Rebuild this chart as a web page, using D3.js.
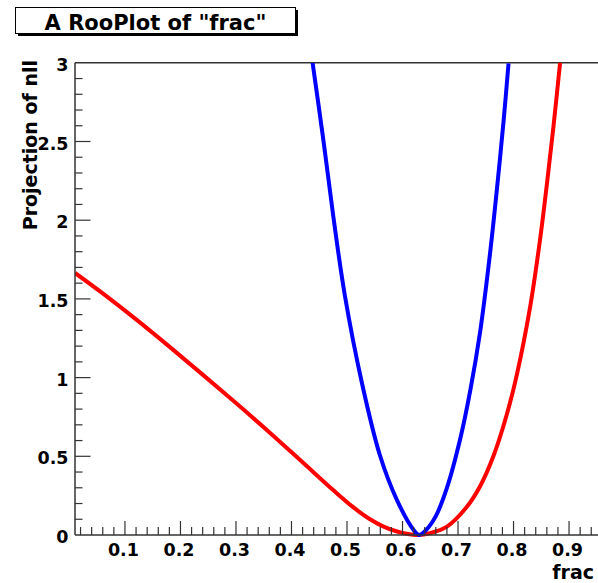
<!DOCTYPE html>
<html>
<head>
<meta charset="utf-8">
<script src="https://cdn.jsdelivr.net/npm/d3@7"></script>
<style>
  html, body { margin: 0; padding: 0; background: #fff; }
  svg { display: block; }
  text { font-family: "DejaVu Sans", sans-serif; font-weight: bold; fill: #000; }
</style>
</head>
<body>
<svg id="chart" width="598" height="583"></svg>
<script>
// ---- data ----
const titleText = 'A RooPlot of "frac"';
const xTitle = "frac";
const yTitle = "Projection of nll";
const xTickValues = [0.1, 0.2, 0.3, 0.4, 0.5, 0.6, 0.7, 0.8, 0.9];
const yTickValues = [0, 0.5, 1, 1.5, 2, 2.5, 3];

// red curve (nll projection)
const redX = [0.01, 0.06, 0.12, 0.18, 0.24, 0.30, 0.36, 0.42, 0.475, 0.51, 0.54, 0.565, 0.59, 0.61, 0.628, 0.65, 0.68, 0.716, 0.74, 0.764, 0.788, 0.806, 0.83, 0.848, 0.86, 0.872, 0.884];
const redY = [1.665, 1.535, 1.37, 1.197, 1.019, 0.838, 0.653, 0.462, 0.286, 0.18, 0.103, 0.055, 0.022, 0.006, 0.0, 0.012, 0.053, 0.179, 0.311, 0.503, 0.767, 1.019, 1.451, 1.883, 2.225, 2.597, 3.005];

// blue curve
const blueX = [0.438, 0.457, 0.475, 0.496, 0.527, 0.559, 0.59, 0.62, 0.63, 0.642, 0.66, 0.68, 0.704, 0.722, 0.74, 0.758, 0.77, 0.782, 0.791];
const blueY = [3.0, 2.52, 2.033, 1.525, 0.964, 0.51, 0.222, 0.032, 0.0, 0.03, 0.12, 0.299, 0.611, 0.917, 1.295, 1.799, 2.195, 2.627, 2.996];

// ---- layout ----
const svg = d3.select("#chart");
const pL = 75, pR = 619, pT = 62.8, pB = 535;

const x = d3.scaleLinear().domain([0.01, 0.99]).range([pL, pR]);
const y = d3.scaleLinear().domain([0, 3]).range([pB, pT]);

// clip
svg.append("clipPath").attr("id", "plotclip")
  .append("rect").attr("x", pL).attr("y", pT).attr("width", pR - pL).attr("height", pB - pT + 2);

// frame
const frameColor = "#333";
svg.append("line").attr("x1", pL).attr("x2", pR).attr("y1", pT).attr("y2", pT)
  .attr("stroke", frameColor).attr("stroke-width", 1.5);

// curves
const line = d3.line().x(d => x(d[0])).y(d => y(d[1])).curve(d3.curveCatmullRom.alpha(0.5));
const gCurves = svg.append("g").attr("clip-path", "url(#plotclip)");
gCurves.append("path").datum(redX.map((v, i) => [v, redY[i]]))
  .attr("d", line).attr("fill", "none").attr("stroke", "#ff0000").attr("stroke-width", 4);
gCurves.append("path").datum(blueX.map((v, i) => [v, blueY[i]]))
  .attr("d", line).attr("fill", "none").attr("stroke", "#0000ff").attr("stroke-width", 4);

// x axis ticks (inside, pointing up)
const xMinor = d3.range(0.02, 0.99, 0.02).map(v => +v.toFixed(2));
const gx = svg.append("g");
gx.selectAll("line.minor").data(xMinor).join("line")
  .attr("x1", d => x(d)).attr("x2", d => x(d))
  .attr("y1", pB).attr("y2", d => xTickValues.some(t => Math.abs(t - d) < 1e-6) ? pB - 14 : pB - 8)
  .attr("stroke", frameColor).attr("stroke-width", 1.2);
gx.append("line").attr("x1", pL).attr("x2", pR).attr("y1", pB).attr("y2", pB)
  .attr("stroke", frameColor).attr("stroke-width", 1.5);
gx.selectAll("text").data(xTickValues).join("text")
  .attr("x", d => x(d) - 1.5).attr("y", 556)
  .attr("text-anchor", "middle").attr("font-size", 17.5)
  .text(d => d3.format(".1f")(d));

// y axis ticks (inside, pointing right)
const yMinor = d3.range(0.1, 3.0, 0.1).map(v => +v.toFixed(1));
const gy = svg.append("g");
gy.selectAll("line.minor").data(yMinor).join("line")
  .attr("y1", d => y(d)).attr("y2", d => y(d))
  .attr("x1", pL).attr("x2", d => yTickValues.some(t => Math.abs(t - d) < 1e-6) ? pL + 15.5 : pL + 7.5)
  .attr("stroke", frameColor).attr("stroke-width", 1.2);
gy.append("line").attr("x1", pL).attr("x2", pL).attr("y1", pT).attr("y2", pB)
  .attr("stroke", frameColor).attr("stroke-width", 1.5);
gy.selectAll("text").data(yTickValues).join("text")
  .attr("x", 68.5).attr("y", d => y(d) + 8)
  .attr("text-anchor", "end").attr("font-size", 17.5)
  .text(d => d3.format("~g")(d));

// axis titles
svg.append("text").attr("x", 594).attr("y", 579).attr("text-anchor", "end")
  .attr("font-size", 19).text(xTitle);
svg.append("text").attr("transform", "translate(37,60) rotate(-90)")
  .attr("text-anchor", "end").attr("font-size", 19).text(yTitle);

// title box with shadow
svg.append("rect").attr("x", 18).attr("y", 10).attr("width", 280).attr("height", 26).attr("fill", "#000");
svg.append("rect").attr("x", 15.5).attr("y", 7.5).attr("width", 280).attr("height", 26)
  .attr("fill", "#fff").attr("stroke", "#000").attr("stroke-width", 1);
svg.append("text").attr("x", 155.5).attr("y", 30).attr("text-anchor", "middle")
  .attr("font-size", 21).text(titleText);
</script>
</body>
</html>
